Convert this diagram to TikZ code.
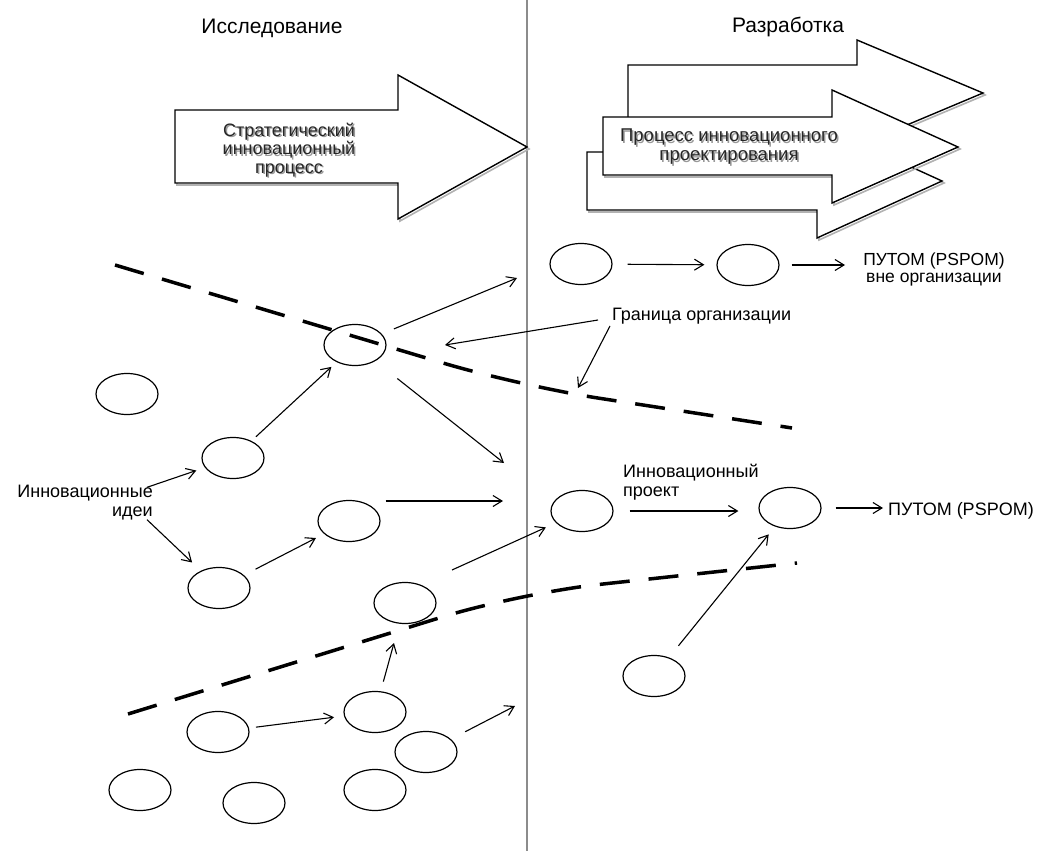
\documentclass[tikz,border=0pt]{standalone}
\usepackage{fontspec}
\setmainfont{Liberation Sans}
\usetikzlibrary{shapes.geometric,arrows.meta}
\tikzset{
  oval/.style={draw, ellipse, line width=1.2pt, minimum width=62pt, minimum height=41pt, inner sep=0pt},
  arr/.style={line width=1.1pt, -{Straight Barb[length=9pt,width=11pt]}},
  bound/.style={line width=3.5pt, dash pattern=on 30pt off 19pt},
  bigarrow/.style={draw, line width=1.4pt, fill=white, line join=miter},
  bigshadow/.style={draw=black!30, line width=1.6pt, line join=miter},
  lbl/.style={font=\fontsize{18}{19}\selectfont, inner sep=0pt},
  hdr/.style={font=\fontsize{21}{24}\selectfont, inner sep=0pt},
  arrtxt/.style={font=\fontsize{18}{18.5}\selectfont, inner sep=0pt, align=center, text=black!85},
  arrshadow/.style={arrtxt, text=black!40},
}
\begin{document}
\begin{tikzpicture}[x=1pt,y=-1pt]
\useasboundingbox (0,0) rectangle (1045,851);
\fill[white] (0,0) rectangle (1045,851);

% divider
\draw[line width=2pt, black!45] (527,0) -- (527,851);

% headers
\node[hdr] (hres) at (272,28) {Исследование};
\node[hdr] (hdev) at (788,27) {Разработка};

% big arrows
\path[bigshadow] (177,112) -- (400,112) -- (400,77) -- (529,149) -- (400,221) -- (400,185) -- (177,185) -- cycle;
\path[bigarrow] (175,110) -- (398,110) -- (398,75) -- (527,147) -- (398,219) -- (398,183) -- (175,183) -- cycle;
\path[bigshadow] (630,67) -- (859,67) -- (859,42) -- (985,95) -- (859,148) -- (859,123) -- (630,123) -- cycle;
\path[bigarrow] (628,65) -- (857,65) -- (857,40) -- (983,93) -- (857,146) -- (857,121) -- (628,121) -- cycle;
\path[bigshadow] (589,154) -- (819,154) -- (819,126) -- (944,183) -- (819,240) -- (819,212) -- (589,212) -- cycle;
\path[bigarrow] (587,152) -- (817,152) -- (817,124) -- (942,181) -- (817,238) -- (817,210) -- (587,210) -- cycle;
\path[bigshadow] (605,119) -- (834,119) -- (834,92) -- (960,149) -- (834,205) -- (834,177) -- (605,177) -- cycle;
\path[bigarrow] (603,117) -- (832,117) -- (832,90) -- (958,147) -- (832,203) -- (832,175) -- (603,175) -- cycle;

\node[arrshadow] (s1sh) at (290.5,151.5) {Стратегический\\инновационный\\процесс};
\node[arrtxt] (s1) at (289,150) {Стратегический\\инновационный\\процесс};
\node[arrshadow, font=\fontsize{18.5}{19}\selectfont] (s2sh) at (730.5,148.5) {Процесс инновационного\\проектирования};
\node[arrtxt, font=\fontsize{18.5}{19}\selectfont] (s2) at (729,147) {Процесс инновационного\\проектирования};

% ellipses
\node[oval] (e1) at (581,264) {};
\node[oval] (e2) at (748,265) {};
\node[oval] (e3) at (355,345) {};
\node[oval] (e4) at (127,394) {};
\node[oval] (e5) at (233,458) {};
\node[oval] (e6) at (349,521) {};
\node[oval] (e7) at (219,588) {};
\node[oval] (e8) at (405,603) {};
\node[oval] (e9) at (582,511) {};
\node[oval] (e10) at (790,508) {};
\node[oval] (e11) at (654,676) {};
\node[oval] (e12) at (218,732) {};
\node[oval] (e13) at (375,712) {};
\node[oval] (e14) at (426,752) {};
\node[oval] (e15) at (140,790) {};
\node[oval] (e16) at (254,803) {};
\node[oval] (e17) at (375,790) {};

% labels
\node[lbl, align=center, font=\fontsize{17.5}{17}\selectfont] (tout1) at (934,269) {ПУТОМ (PSPOM)\\вне организации};
\node[lbl, anchor=west] (tbound) at (612,316) {Граница организации};
\node[lbl, align=right, anchor=east] (tideas) at (153,503) {Инновационные\\идеи};
\node[lbl, align=left, anchor=west] (tproj) at (623,482) {Инновационный\\проект};
\node[lbl, anchor=west] (tout2) at (888,511) {ПУТОМ (PSPOM)};

% free ends
\coordinate (p2) at (845,265);
\coordinate (pa) at (517,278);
\coordinate (pb) at (445,345);
\coordinate (pc) at (578,388);
\coordinate (pd) at (504,463);
\coordinate (pe) at (503,501);
\coordinate (pf) at (452,570);
\coordinate (pg) at (515,706);

% dashed organisation boundaries
\draw[bound, rounded corners=80pt] (115,265) -- (520,386) -- (792,428);
\draw[bound, rounded corners=80pt] (128,714) -- (520,593) -- (797,563);

% connectors
\draw[arr, shorten <=15pt, shorten >=12pt] (e1) -- (e2);
\draw[arr, shorten <=12pt] (e2) -- (p2);
\draw[arr, shorten <=13pt] (e3) -- (pa);
\draw[arr] ([shift={(-14,4)}]tbound.west) -- (pb);
\draw[arr] ([shift={(-2,10)}]tbound.west) -- (pc);
\draw[arr, shorten <=6pt, shorten >=7pt] (e5) -- (e3);
\draw[arr, shorten <=28pt] (e3) -- (pd);
\draw[arr, shorten >=9pt] ([shift={(-6,2)}]tideas.north east) -- (e5);
\draw[arr, shorten >=12pt] ([shift={(-6,-1)}]tideas.south east) -- (e7);
\draw[arr, shorten <=13pt, shorten >=9pt] (e7) -- (e6);
\draw[arr, shorten <=5pt] (e6.east |- pe) -- (pe);
\draw[arr, shorten >=11pt] (pf) -- (e9);
\draw[arr, shorten <=16pt, shorten >=20pt] (e9.east) -- (e9.east -| e10.west);
\draw[arr, shorten <=14pt, shorten >=5pt] (e10.east) -- (e10.east -| tout2.west);
\draw[arr, shorten <=15pt, shorten >=10pt] (e11) -- (e10);
\draw[arr, shorten <=7pt, shorten >=10pt] (e12) -- (e13);
\draw[arr, shorten <=10pt, shorten >=20pt] (e13) -- (e8);
\draw[arr, shorten <=16pt] (e14) -- (pg);
\end{tikzpicture}
\end{document}
